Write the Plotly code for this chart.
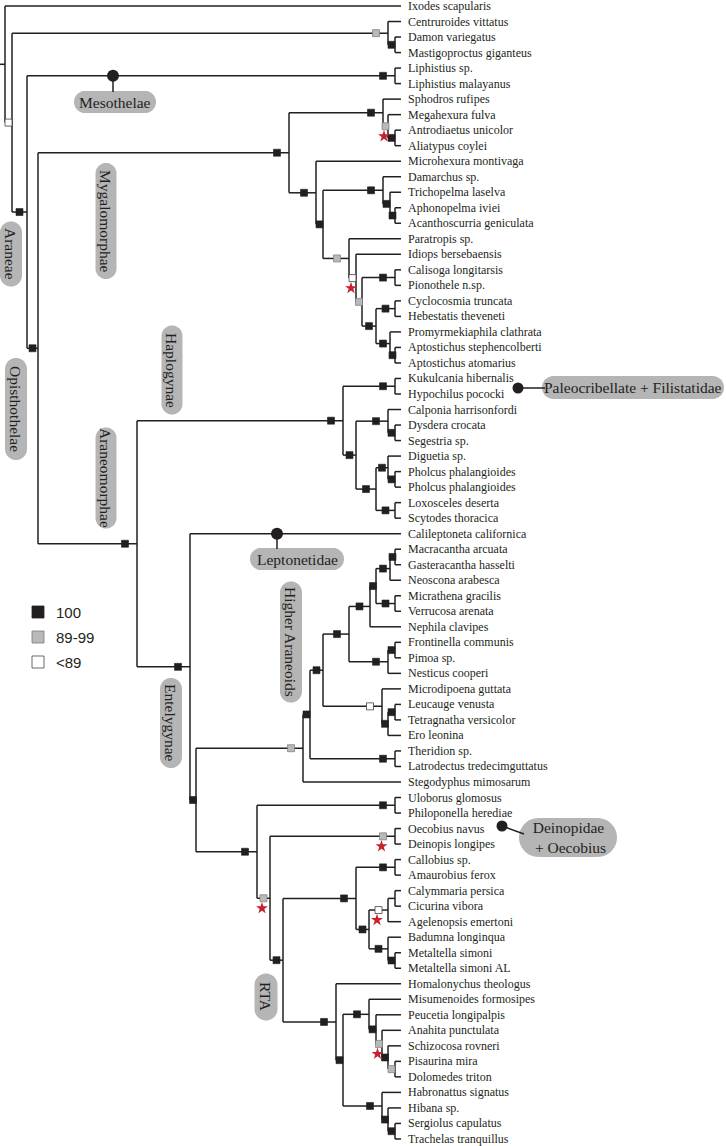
import plotly.graph_objects as go

# ---------------- data ----------------
LEAF_NAMES = [
    "Ixodes scapularis", "Centruroides vittatus", "Damon variegatus", "Mastigoproctus giganteus",
    "Liphistius sp.", "Liphistius malayanus", "Sphodros rufipes", "Megahexura fulva",
    "Antrodiaetus unicolor", "Aliatypus coylei", "Microhexura montivaga", "Damarchus sp.",
    "Trichopelma laselva", "Aphonopelma iviei", "Acanthoscurria geniculata", "Paratropis sp.",
    "Idiops bersebaensis", "Calisoga longitarsis", "Pionothele n.sp.", "Cyclocosmia truncata",
    "Hebestatis theveneti", "Promyrmekiaphila clathrata", "Aptostichus stephencolberti",
    "Aptostichus atomarius", "Kukulcania hibernalis", "Hypochilus pococki",
    "Calponia harrisonfordi", "Dysdera crocata", "Segestria sp.", "Diguetia sp.",
    "Pholcus phalangioides", "Pholcus phalangioides", "Loxosceles deserta", "Scytodes thoracica",
    "Calileptoneta californica", "Macracantha arcuata", "Gasteracantha hasselti",
    "Neoscona arabesca", "Micrathena gracilis", "Verrucosa arenata", "Nephila clavipes",
    "Frontinella communis", "Pimoa sp.", "Nesticus cooperi", "Microdipoena guttata",
    "Leucauge venusta", "Tetragnatha versicolor", "Ero leonina", "Theridion sp.",
    "Latrodectus tredecimguttatus", "Stegodyphus mimosarum", "Uloborus glomosus",
    "Philoponella herediae", "Oecobius navus", "Deinopis longipes", "Callobius sp.",
    "Amaurobius ferox", "Calymmaria persica", "Cicurina vibora", "Agelenopsis emertoni",
    "Badumna longinqua", "Metaltella simoni", "Metaltella simoni AL", "Homalonychus theologus",
    "Misumenoides formosipes", "Peucetia longipalpis", "Anahita punctulata",
    "Schizocosa rovneri", "Pisaurina mira", "Dolomedes triton", "Habronattus signatus",
    "Hibana sp.", "Sergiolus capulatus", "Trachelas tranquillus",
]

NODE_IDS = [
    "root", "arach", "scorp", "amblyp", "araneae", "meso", "opis", "myg", "atyp", "atyp2",
    "atyp3", "avic", "avic2", "theraph", "theraph2", "theraph3", "bip", "bip2", "bip3", "nemes",
    "bip4", "ctenz", "euct", "apto", "araneo", "haplo", "paleo", "hap2", "dysd", "dysd2",
    "hap3", "pholc", "pholc2", "scyt", "ent0", "ent1", "arneo", "arneo2", "therid", "arneo3",
    "orb", "aran", "aran2", "aran3", "gast", "micr", "liny", "liny2", "tetra", "tetra2",
    "tetra3", "rest", "ulob", "rest2", "oeco", "rest3", "amaur", "callo", "amaur2", "agel",
    "agel2", "desid", "metal", "rta", "rta2", "lyco", "lyco2", "lyco3", "lyco4", "lyco5",
    "dion", "dion2", "dion3",
]

# node depth (horizontal position of each internal node on the tree scale)
NODE_DEPTH = [
    5, 12, 388, 395, 27, 395, 38, 289, 383, 388,
    395, 316, 323, 383, 390, 395, 349, 356, 362, 395,
    376, 395, 390, 395, 137, 343, 395, 356, 388, 395,
    376, 388, 395, 395, 190, 196, 303, 310, 395, 323,
    349, 370, 376, 390, 395, 395, 388, 395, 382, 388,
    395, 257, 395, 270, 395, 283, 356, 395, 369, 388,
    395, 388, 395, 336, 343, 369, 376, 382, 388, 395,
    382, 388, 395,
]

# bootstrap class: B = 100, G = 89-99, W = <89, "" = none
NODE_SUPPORT = [
    "", "W", "G", "B", "B", "B", "B", "B", "B", "G",
    "B", "B", "B", "B", "B", "B", "G", "W", "G", "B",
    "B", "B", "B", "B", "B", "B", "B", "B", "B", "B",
    "B", "B", "B", "B", "B", "B", "G", "B", "B", "B",
    "B", "B", "B", "B", "B", "B", "B", "B", "W", "B",
    "B", "B", "B", "G", "G", "B", "B", "B", "B", "W",
    "", "B", "B", "B", "B", "B", "B", "G", "B", "G",
    "B", "B", "B",
]

NODE_CHILDREN = [
    [0, "arach"], ["scorp", "araneae"], [1, "amblyp"], [2, 3], ["meso", "opis"], [4, 5],
    ["myg", "araneo"], ["atyp", "avic"], [6, "atyp2"], [7, "atyp3"],
    [8, 9], [10, "avic2"], ["theraph", "bip"], [11, "theraph2"], [12, "theraph3"], [13, 14],
    [15, "bip2"], [16, "bip3"], ["nemes", "bip4"], [17, 18],
    ["ctenz", "euct"], [19, 20], [21, "apto"], [22, 23], ["haplo", "ent0"], ["paleo", "hap2"],
    [24, 25], ["dysd", "hap3"], [26, "dysd2"], [27, 28],
    ["pholc", "scyt"], [29, "pholc2"], [30, 31], [32, 33], [34, "ent1"], ["arneo", "rest"],
    ["arneo2", 50], ["arneo3", "therid"], [48, 49], ["orb", "tetra"],
    ["aran", "liny"], ["aran2", 40], ["aran3", "micr"], ["gast", 37], [35, 36], [38, 39],
    ["liny2", 43], [41, 42], [44, "tetra2"], ["tetra3", 47],
    [45, 46], ["ulob", "rest2"], [51, 52], ["oeco", "rest3"], [53, 54], ["amaur", "rta"],
    ["callo", "amaur2"], [55, 56], ["agel", "desid"], ["agel2", 59],
    [57, 58], [60, "metal"], [61, 62], [63, "rta2"], ["lyco", "dion"], [64, "lyco2"],
    [65, "lyco3"], [66, "lyco4"], [67, "lyco5"], [68, 69],
    [70, "dion2"], [71, "dion3"], [72, 73],
]

STARRED_NODES = ["atyp2", "bip2", "oeco", "rest2", "agel", "lyco3"]

LEGEND_CLASSES = ["100", "89-99", "<89"]

# ---------------- layout constants ----------------
W, H = 726, 1146
TIP_X = 401
Y0, DY = 6.0, 15.52
INK = "#231f20"
PILL = "#b5b5b5"
STAR = "#c8202f"
SUP_STYLE = {
    "B": dict(color=INK, line=dict(color=INK, width=0.6)),
    "G": dict(color="#b9b9b9", line=dict(color="#7a7a7a", width=0.7)),
    "W": dict(color="#ffffff", line=dict(color="#444444", width=0.8)),
}

# ---------------- tree geometry ----------------
depth = dict(zip(NODE_IDS, NODE_DEPTH))
support = dict(zip(NODE_IDS, NODE_SUPPORT))
children = dict(zip(NODE_IDS, NODE_CHILDREN))
parent = {}
for nid, ch in children.items():
    for c in ch:
        parent[c] = nid


def ypos(n):
    if isinstance(n, int):
        return Y0 + n * DY
    ch = children[n]
    return (ypos(ch[0]) + ypos(ch[-1])) / 2.0


def xpos(n):
    return TIP_X if isinstance(n, int) else depth[n]


lx, ly = [], []
ry = ypos("root")
lx += [0, depth["root"], None]
ly += [ry, ry, None]
for nid in NODE_IDS:
    xn = depth[nid]
    ch = children[nid]
    lx += [xn, xn, None]
    ly += [ypos(ch[0]), ypos(ch[-1]), None]
    for c in ch:
        lx += [xn, xpos(c), None]
        ly += [ypos(c), ypos(c), None]

fig = go.Figure()
fig.add_trace(go.Scatter(x=lx, y=ly, mode="lines", line=dict(color=INK, width=1.5),
                         hoverinfo="skip", showlegend=False))

# support squares
marker_pos = {}
for nid in NODE_IDS:
    if nid == "root":
        continue
    L = depth[nid] - depth[parent[nid]]
    marker_pos[nid] = (depth[nid] - min(L / 2.0, 12.0), ypos(nid))

for cls in ["B", "G", "W"]:
    ids = [n for n in NODE_IDS if support[n] == cls]
    fig.add_trace(go.Scatter(
        x=[marker_pos[n][0] for n in ids], y=[marker_pos[n][1] for n in ids],
        mode="markers", marker=dict(symbol="square", size=7, **SUP_STYLE[cls]),
        hoverinfo="skip", showlegend=False))

fig.add_trace(go.Scatter(
    x=[marker_pos[n][0] - 1.5 for n in STARRED_NODES],
    y=[marker_pos[n][1] + 10 for n in STARRED_NODES],
    mode="markers", marker=dict(symbol="star", size=9, color=STAR, line=dict(width=0)),
    hoverinfo="skip", showlegend=False))

annotations = []
shapes = []

# leaf labels
for i, name in enumerate(LEAF_NAMES):
    annotations.append(dict(x=TIP_X + 5, y=Y0 + i * DY, text=name, showarrow=False,
                            xanchor="left", yanchor="middle",
                            font=dict(family="Liberation Serif", size=12, color=INK)))


def pill_path(cx, cy, w, h):
    import math
    r = min(w, h) / 2.0
    x0, x1, y0, y1 = cx - w / 2, cx + w / 2, cy - h / 2, cy + h / 2
    corners = [(x1 - r, y0 + r, -90, 0), (x1 - r, y1 - r, 0, 90),
               (x0 + r, y1 - r, 90, 180), (x0 + r, y0 + r, 180, 270)]
    pts = []
    for ccx, ccy, a0, a1 in corners:
        for k in range(13):
            a = math.radians(a0 + (a1 - a0) * k / 12)
            pts.append((ccx + r * math.cos(a), ccy + r * math.sin(a)))
    return "M " + " L ".join(f"{px:.2f},{py:.2f}" for px, py in pts) + " Z"


def add_pill(cx, cy, w, h, text, angle=0, size=15.5):
    shapes.append(dict(type="path", path=pill_path(cx, cy, w, h), xref="x", yref="y",
                       fillcolor=PILL, line=dict(width=0), layer="below"))
    annotations.append(dict(x=cx, y=cy, text=text, showarrow=False, textangle=angle,
                            xanchor="center", yanchor="middle",
                            font=dict(family="Liberation Serif", size=size, color=INK)))


def add_dot(cx, cy, r):
    shapes.append(dict(type="circle", xref="x", yref="y", x0=cx - r, x1=cx + r,
                       y0=cy - r, y1=cy + r, fillcolor=INK, line=dict(width=0)))


def add_link(xa, ya, xb, yb):
    shapes.append(dict(type="line", xref="x", yref="y", x0=xa, y0=ya, x1=xb, y1=yb,
                       line=dict(color=INK, width=1.5)))


# clade labels
meso_y = ypos("meso")
add_link(113, meso_y, 113, 92)
add_dot(113, meso_y, 6)
add_pill(115, 102, 82, 22, "Mesothelae")

lep_y = ypos(34)
add_link(277, lep_y, 277, 549)
add_dot(277, lep_y, 6)
add_pill(297, 559, 94, 22, "Leptonetidae")

add_link(518, 388, 545, 388)
add_dot(518, 388, 5.5)
add_pill(633, 387.5, 182, 23, "Paleocribellate + Filistatidae")

add_link(502, 826, 524, 834)
add_dot(502, 826, 5.5)
add_pill(568, 837.5, 98, 39, "Deinopidae<br> + Oecobius")

add_pill(11, 254, 22, 65, "Araneae", angle=90)
add_pill(16, 409, 22, 102, "Opisthothelae", angle=90)
add_pill(106, 221, 21, 116, "Mygalomorphae", angle=90)
add_pill(172, 370, 21, 89, "Haplogynae", angle=90)
add_pill(106, 478, 21, 101, "Araneomorphae", angle=90)
add_pill(291, 642, 22, 121, "Higher Araneoids", angle=90)
add_pill(171, 723, 22, 90, "Entelygynae", angle=90)
add_pill(266, 997, 23, 47, "RTA", angle=90)

# legend
for k, (lab, cls) in enumerate(zip(LEGEND_CLASSES, ["B", "G", "W"])):
    cy = 612 + k * 25
    st = SUP_STYLE[cls]
    shapes.append(dict(type="rect", xref="x", yref="y", x0=32, x1=44, y0=cy - 6, y1=cy + 6,
                       fillcolor=st["color"], line=dict(color=st["line"]["color"], width=0.8)))
    annotations.append(dict(x=54, y=cy, text=lab, showarrow=False, xanchor="left",
                            yanchor="middle",
                            font=dict(family="Liberation Sans", size=15, color=INK)))

fig.update_layout(
    width=W, height=H, margin=dict(l=0, r=0, t=0, b=0),
    paper_bgcolor="white", plot_bgcolor="white",
    xaxis=dict(range=[0, W], visible=False, fixedrange=True),
    yaxis=dict(range=[H, 0], visible=False, fixedrange=True),
    shapes=shapes, annotations=annotations, showlegend=False,
)

fig.write_html("out.html", config={"displayModeBar": False},
               post_script="document.body.style.margin='0';")
